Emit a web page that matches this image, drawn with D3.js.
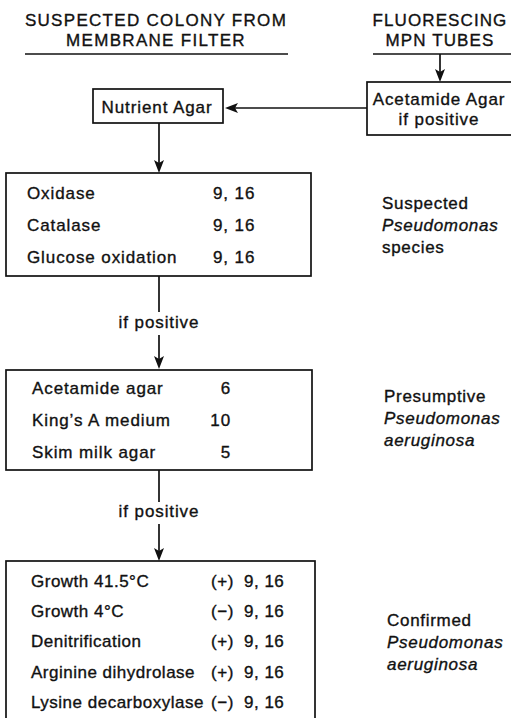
<!DOCTYPE html>
<html>
<head>
<meta charset="utf-8">
<script src="https://cdn.jsdelivr.net/npm/d3@7"></script>
<style>
  body { margin: 0; background: #fff; }
  svg text { font-family: "Liberation Sans", Arial, sans-serif; fill: #111; stroke: #111; stroke-width: 0.35; }
</style>
</head>
<body>
<svg width="511" height="718"></svg>
<script>
// headings
const leftHead = ["SUSPECTED COLONY FROM", "MEMBRANE FILTER"];
const rightHead = ["FLUORESCING", "MPN TUBES"];
const isolationBox = ["Nutrient Agar"];
const mpnBox = ["Acetamide Agar", "if positive"];

// test stages
const screenTests = ["Oxidase", "Catalase", "Glucose oxidation"];
const screenRefs = ["9, 16", "9, 16", "9, 16"];
const presumTests = ["Acetamide  agar", "King\u2019s A medium", "Skim milk agar"];
const presumRefs = ["6", "10", "5"];
const confirmTests = ["Growth 41.5\u00b0C", "Growth 4\u00b0C", "Denitrification", "Arginine dihydrolase", "Lysine decarboxylase"];
const confirmSigns = ["(+)", "(\u2212)", "(+)", "(+)", "(\u2212)"];
const confirmRefs = ["9, 16", "9, 16", "9, 16", "9, 16", "9, 16"];

// result labels at right (genus/species in italic)
const stageNames = [
  ["Suspected", "Pseudomonas", "species"],
  ["Presumptive", "Pseudomonas", "aeruginosa"],
  ["Confirmed", "Pseudomonas", "aeruginosa"]
];
const stageItalic = [
  [false, true, false],
  [false, true, true],
  [false, true, true]
];
const connector = "if positive";

const svg = d3.select("svg");
const fs = 17;
const midX = 159;

function txt(g, s, x, y, opt = {}) {
  return g.append("text")
    .attr("x", x).attr("y", y)
    .attr("font-size", opt.size || fs)
    .attr("letter-spacing", opt.ls != null ? opt.ls : 0.9)
    .attr("text-anchor", opt.anchor || "start")
    .attr("font-style", opt.italic ? "italic" : "normal")
    .text(s);
}
function line(x1, y1, x2, y2) {
  svg.append("line").attr("x1", x1).attr("y1", y1).attr("x2", x2).attr("y2", y2)
    .attr("stroke", "#111").attr("stroke-width", 1.7);
}
// arrow head, tip at (x,y)
function head(x, y, dir) {
  const p = d3.path();
  if (dir === "down") {
    p.moveTo(x, y); p.lineTo(x - 5, y - 13); p.lineTo(x, y - 10); p.lineTo(x + 5, y - 13); p.closePath();
  } else {
    p.moveTo(x, y); p.lineTo(x + 13, y - 5); p.lineTo(x + 10, y); p.lineTo(x + 13, y + 5); p.closePath();
  }
  svg.append("path").attr("d", p.toString()).attr("fill", "#111");
}
function box(x0, y0, x1, y1) {
  svg.append("rect").attr("x", x0).attr("y", y0).attr("width", x1 - x0).attr("height", y1 - y0)
    .attr("fill", "none").attr("stroke", "#111").attr("stroke-width", 1.7);
}

// headings
const hy = d3.scalePoint().domain([0, 1]).range([26, 46]);
leftHead.forEach((s, i) => txt(svg, s, 156, hy(i), { anchor: "middle", ls: 1.3 }));
rightHead.forEach((s, i) => txt(svg, s, 440, hy(i), { anchor: "middle", ls: 1.1 }));
line(25, 54, 288, 54);
line(373, 54, 511, 54);

// MPN branch
line(440, 54, 440, 79); head(440, 82, "down");
box(367, 82, 515, 135);
const my = d3.scalePoint().domain(d3.range(mpnBox.length)).range([105, 125]);
mpnBox.forEach((s, i) => txt(svg, s, 439, my(i), { anchor: "middle" }));
line(367, 108, 228, 108); head(225, 108, "left");

// nutrient agar
box(93, 89, 223, 123);
txt(svg, isolationBox[0], 157, 113, { anchor: "middle" });
line(midX, 123, midX, 170); head(midX, 173, "down");

// stage boxes
function stage(tests, refs, y0, y1, x1, first, step, opts) {
  box(6, y0, x1, y1);
  const ys = d3.scaleLinear().domain([0, 1]).range([first, first + step]);
  const names = tests.map((s, i) => txt(svg, s, opts.tx, ys(i), { ls: opts.ls }));
  refs.forEach((s, i) => txt(svg, s, opts.rx, ys(i), { anchor: opts.ranchor, ls: opts.ls }));
  return { ys, names };
}
stage(screenTests, screenRefs, 173, 276, 311, 199, 32, { tx: 27, rx: 213, ranchor: "start" });
stage(presumTests, presumRefs, 370, 470, 312, 394, 32, { tx: 32, rx: 231, ranchor: "end" });
const conf = stage(confirmTests, confirmRefs, 561, 730, 315, 587, 30.2, { tx: 31, rx: 244, ranchor: "start", ls: 0.5 });
// sign sits in its column unless the test name runs into it
confirmSigns.forEach((s, i) => {
  const end = 31 + conf.names[i].node().getComputedTextLength();
  txt(svg, s, Math.max(211, end + 5), conf.ys(i), { ls: 0.6 });
});

// connectors
line(midX, 276, midX, 312);
txt(svg, connector, midX, 328, { anchor: "middle" });
line(midX, 335, midX, 366); head(midX, 369, "down");
line(midX, 470, midX, 502);
txt(svg, connector, midX, 517, { anchor: "middle" });
line(midX, 524, midX, 558); head(midX, 561, "down");

// stage names
const stageX = [382, 384, 387];
const stageY = [209, 402, 626];
stageNames.forEach((lines, k) => {
  const ly = d3.scaleLinear().domain([0, 1]).range([stageY[k], stageY[k] + 22]);
  lines.forEach((s, i) => txt(svg, s, stageX[k], ly(i), { italic: stageItalic[k][i], ls: 0.7 }));
});
</script>
</body>
</html>
